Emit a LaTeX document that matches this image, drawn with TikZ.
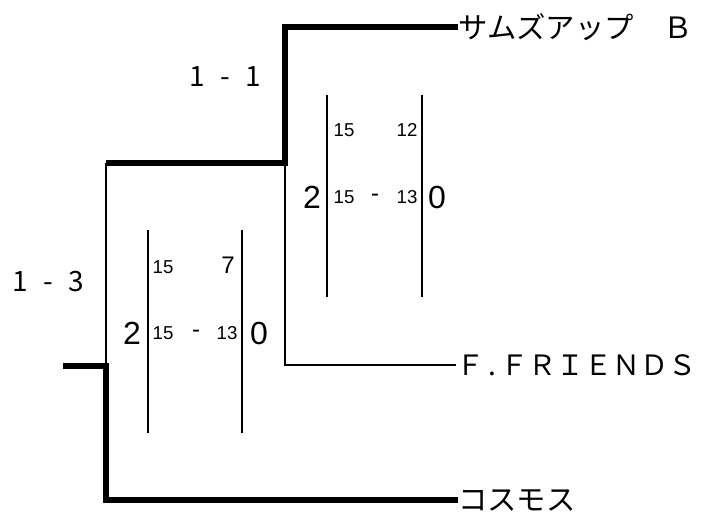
\documentclass[tikz,border=0pt]{standalone}
\usepackage{fontspec}
\setmainfont{Liberation Sans}
\newfontfamily\jpfont{Noto Sans CJK JP}
\usetikzlibrary{positioning}
\newcommand{\scoregap}{\hspace{.55em}-\hspace{.55em}}

\begin{document}
\begin{tikzpicture}[x=0.75pt,y=-0.75pt,
  win/.style={line width=5.2pt},
  lose/.style={line width=1.9pt},
  bar/.style={line width=2.2pt},
  team/.style={anchor=west,inner sep=0pt,font=\jpfont\fontsize{22}{22}\selectfont},
  res/.style={inner sep=0pt,font=\jpfont\fontsize{21}{21}\selectfont},
  big/.style={inner sep=0pt,font=\fontsize{24}{24}\selectfont},
  mid/.style={inner sep=0pt,font=\fontsize{18}{18}\selectfont},
  pts/.style={inner sep=0pt,font=\fontsize{14}{14}\selectfont}]
  \useasboundingbox (0,0) rectangle (709,518);
  % teams
  \node[team] (samsup) at (458,27) {サムズアップ　Ｂ};
  \node[team,font=\jpfont\fontsize{21}{21}\selectfont] (ffr) at (456,365)
    {Ｆ\makebox[12pt][c]{.}ＦＲＩＥＮＤＳ};
  \node[team] (cosmos) at (458,500) {コスモス};
  % junctions
  \coordinate (semi) at (285,163);
  \coordinate (semiw) at (106,163);
  \coordinate (final) at (106,366);
  \coordinate (champ) at (63,366);
  % bracket
  \draw[win] (samsup.west) -| (semi) -- (semiw);
  \draw[lose] (ffr.west) -| (semi);
  \draw[lose] (semiw) -- (final);
  \draw[win] (cosmos.west) -| (final) -- (champ);
  % match results
  \node[res] (semires) at (225,77) {1\scoregap1};
  \node[res] (finalres) at (48,282) {1\scoregap3};
  % semifinal sets
  \draw[bar] (327,95) -- (327,297);
  \draw[bar] (422,95) -- (422,297);
  \node[big] (semiL) at (312,197) {2};
  \node[big] (semiR) at (437,197) {0};
  \node[pts] (semiaL) at (344,130) {15};
  \node[pts] (semiaR) at (407,130) {12};
  \node[pts] (semibL) at (344,197) {15};
  \node[mid] (semibD) at (375,198) {-};
  \node[pts] (semibR) at (407,197) {13};
  % final sets
  \draw[bar] (148,230) -- (148,433);
  \draw[bar] (242,230) -- (242,433);
  \node[big] (finL) at (132,333) {2};
  \node[big] (finR) at (259,333) {0};
  \node[pts] (finaL) at (163,267) {15};
  \node[mid] (finaR) at (228,265) {7};
  \node[pts] (finbL) at (163,333) {15};
  \node[mid] (finbD) at (196,334) {-};
  \node[pts] (finbR) at (227,333) {13};
\end{tikzpicture}
\end{document}
